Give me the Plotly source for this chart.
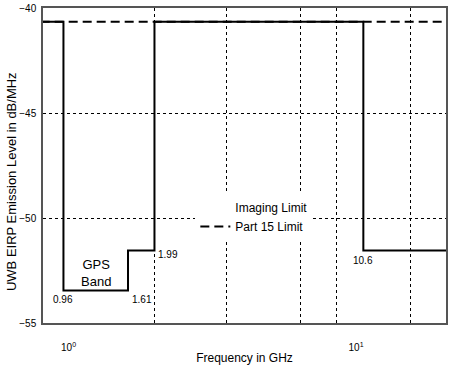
import plotly.graph_objects as go
import math

# ---- data ----
imaging_x = [0.8, 0.96, 1.61, 1.99, 10.6, 21.0]  # step breakpoints in GHz
imaging_y = [-40.65, -53.45, -51.55, -40.65, -51.55, -51.55]
part15_x = [0.8, 21.0]
part15_y = [-40.65, -40.65]
grid_x = [1.99, 3.54, 6.41, 8.58, 15.46]
x_ticks = [1, 10]
x_ticktext = ["10<sup>0</sup>", "10<sup>1</sup>"]
y_ticks = [-55, -50, -45, -40]
point_labels = [
    {"x": 0.96, "y": -53.9, "text": "0.96", "xanchor": "center"},
    {"x": 1.61, "y": -53.9, "text": "1.61", "xanchor": "left"},
    {"x": 1.99, "y": -51.75, "text": "1.99", "xanchor": "left"},
    {"x": 10.6, "y": -52.0, "text": "10.6", "xanchor": "center"},
]
x_range = [0.815, 20.55]

FONT = "Liberation Sans, Arial, Helvetica, sans-serif"

fig = go.Figure()
fig.add_trace(go.Scatter(x=part15_x, y=part15_y, mode="lines", name="Part 15 Limit",
                         line=dict(color="black", width=2, dash="9px,5px"), showlegend=False))
fig.add_trace(go.Scatter(x=imaging_x, y=imaging_y, mode="lines", name="Imaging Limit",
                         line=dict(color="black", width=2, shape="hv"), showlegend=False))
# legend entries
fig.add_trace(go.Scatter(x=[None], y=[None], mode="lines", name="Imaging Limit",
                         line=dict(color="white", width=2)))
fig.add_trace(go.Scatter(x=[None], y=[None], mode="lines", name="Part 15 Limit",
                         line=dict(color="black", width=2, dash="9px,5px")))

for p in point_labels:
    fig.add_annotation(x=math.log10(p["x"]), y=p["y"], text=p["text"], showarrow=False,
                       xanchor=p["xanchor"], yanchor="middle", xshift=2 if p["xanchor"] == "left" else 0,
                       font=dict(size=10, color="black", family=FONT))

fig.add_annotation(x=math.log10(math.sqrt(0.96 * 1.61)), y=-52.6, text="GPS<br>Band",
                   showarrow=False, font=dict(size=13, color="black", family=FONT))

fig.add_annotation(xref="paper", yref="paper", x=-0.0765, y=0.448,
                   text="UWB EIRP Emission Level in dB/MHz", textangle=-90, showarrow=False,
                   xanchor="center", yanchor="middle",
                   font=dict(size=13, color="black", family=FONT))

fig.update_layout(
    width=450, height=367,
    margin=dict(l=43, r=2, t=6, b=44),
    paper_bgcolor="white", plot_bgcolor="white",
    font=dict(family=FONT, color="black", size=10),
    legend=dict(x=0.378, y=0.413, xanchor="left", yanchor="top",
                bgcolor="white", borderwidth=0, font=dict(size=12, family=FONT),
                itemwidth=30, tracegroupgap=0),
    xaxis=dict(type="log", range=[math.log10(x_range[0]), math.log10(x_range[1])],
               tickvals=x_ticks, ticktext=x_ticktext, ticks="", showgrid=False,
               ticklabelstandoff=14,
               showline=True, mirror=True, linecolor="#555", linewidth=1.5,
               zeroline=False,
               minor=dict(tickvals=grid_x, showgrid=True, gridcolor="black",
                          griddash="3px,3px", gridwidth=1, ticks=""),
               title=dict(text="Frequency in GHz", font=dict(size=12, family=FONT), standoff=2)),
    yaxis=dict(range=[-55, -40], tickvals=y_ticks, ticks="", showgrid=True,
               gridcolor="black", griddash="3px,3px", gridwidth=1,
               showline=True, mirror=True, linecolor="#555", linewidth=1.5,
               zeroline=False, ticklabelstandoff=3),
)

fig.write_html("out.html", config={"displayModeBar": False},
               post_script="document.body.style.margin='0';document.body.style.padding='0';"
                           "document.body.style.overflow='hidden';")
